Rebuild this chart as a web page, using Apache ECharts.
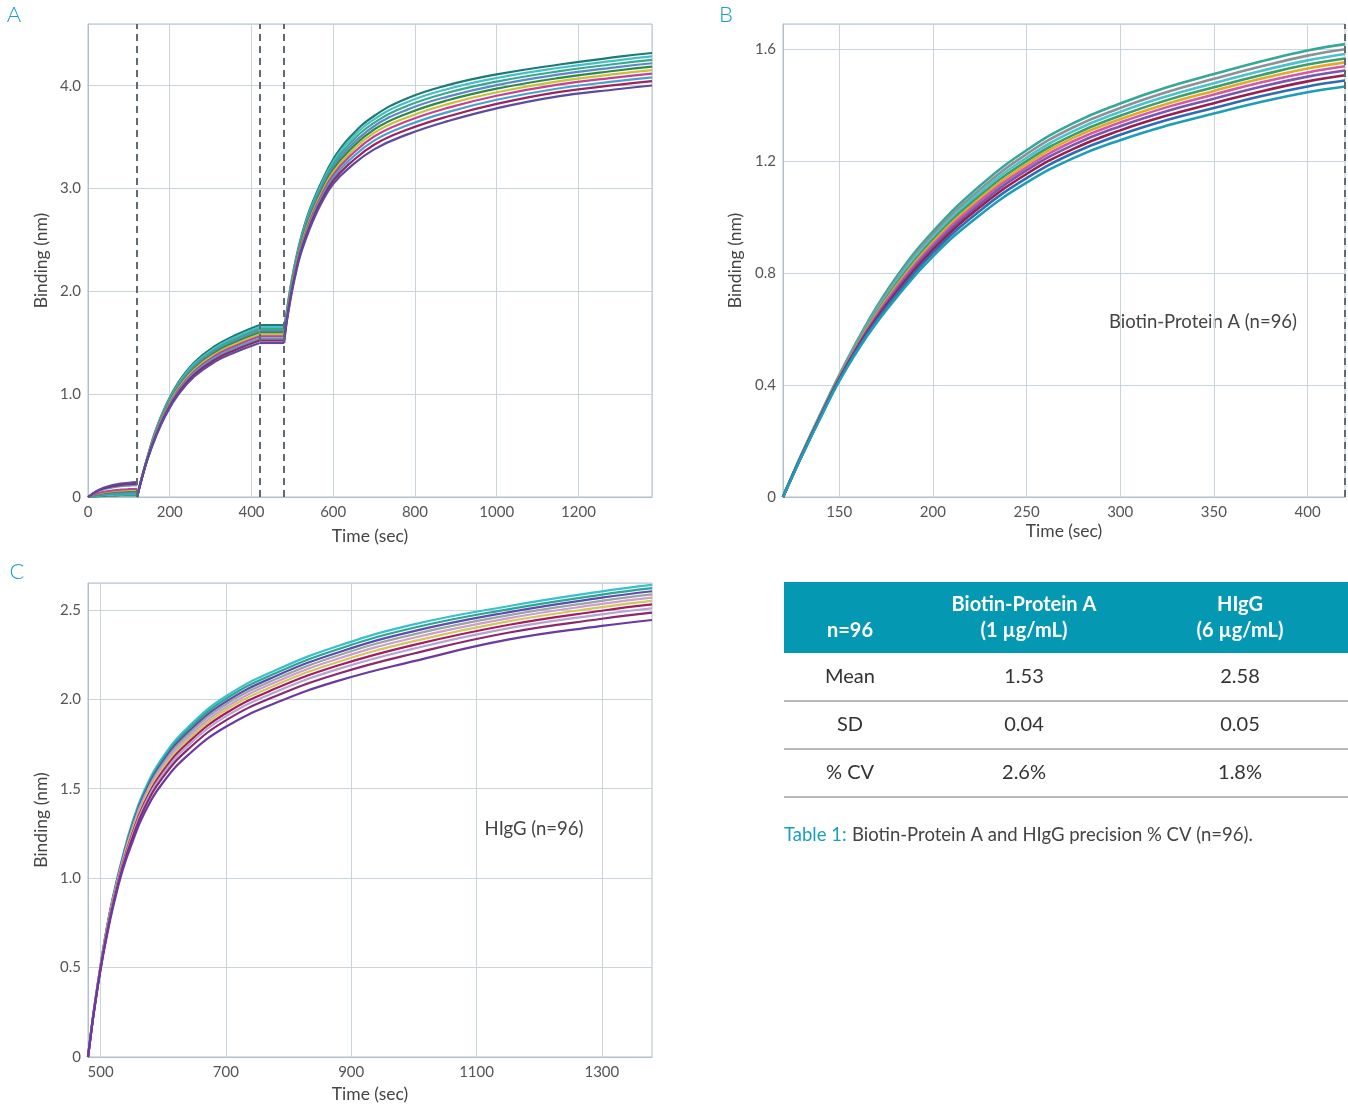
<!DOCTYPE html>
<html>
<head>
<meta charset="utf-8">
<title>Binding precision</title>
<script src="https://cdn.jsdelivr.net/npm/echarts@6/dist/echarts.min.js"></script>
<style>
  html, body { margin: 0; padding: 0; background: #fff; }
  #chart { width: 1348px; height: 1108px; }
</style>
</head>
<body>
<div id="chart"></div>
<script>
// ---- panel A : full run (baseline / Biotin-Protein A loading / baseline / HIgG association)
var tA1 = [0, 20, 40, 60, 80, 100, 120];
var tA2 = [120, 130, 145, 165, 190, 220, 260, 310, 360, 420];
var tAHold = [420, 480];
var tA3 = [480, 485, 490, 500, 510, 520, 535, 550, 570, 600, 640, 700, 780, 880, 1000, 1150, 1300, 1380];
var stepMarksA = [120, 420, 480];

var aBase = [
  [0, .006, .010, .012, .014, .014, .015],
  [0, .010, .016, .020, .023, .024, .025],
  [0, .014, .023, .028, .032, .034, .035],
  [0, .018, .029, .036, .041, .043, .045],
  [0, .024, .039, .048, .054, .058, .060],
  [0, .028, .046, .056, .063, .067, .070],
  [0, .032, .052, .064, .072, .077, .080],
  [0, .046, .075, .092, .104, .110, .115],
  [0, .052, .085, .104, .117, .125, .130],
  [0, .058, .094, .116, .131, .139, .145]
];
var aLoad = [
  [0, .164, .380, .644, .886, 1.108, 1.308, 1.466, 1.572, 1.672],
  [0, .163, .378, .636, .875, 1.094, 1.292, 1.448, 1.553, 1.652],
  [0, .162, .376, .628, .865, 1.082, 1.277, 1.432, 1.535, 1.633],
  [0, .161, .373, .621, .855, 1.069, 1.262, 1.415, 1.517, 1.614],
  [0, .161, .371, .615, .847, 1.058, 1.250, 1.401, 1.502, 1.598],
  [0, .160, .370, .609, .838, 1.048, 1.238, 1.387, 1.487, 1.582],
  [0, .159, .367, .601, .828, 1.035, 1.223, 1.371, 1.469, 1.563],
  [0, .158, .365, .594, .817, 1.022, 1.207, 1.352, 1.450, 1.542],
  [0, .157, .363, .586, .806, 1.008, 1.190, 1.334, 1.430, 1.522],
  [0, .156, .360, .576, .794, .992, 1.172, 1.314, 1.408, 1.498]
];
var aHold = [
  [1.672, 1.672], [1.652, 1.652], [1.633, 1.633], [1.614, 1.614], [1.598, 1.598],
  [1.582, 1.582], [1.563, 1.563], [1.542, 1.542], [1.522, 1.522], [1.498, 1.498]
];
var aAssoc = [
  [1.672, 1.772, 1.906, 2.143, 2.339, 2.504, 2.710, 2.870, 3.051, 3.285, 3.496, 3.705, 3.876, 4.005, 4.110, 4.204, 4.282, 4.318],
  [1.652, 1.761, 1.894, 2.130, 2.324, 2.488, 2.691, 2.850, 3.030, 3.260, 3.466, 3.672, 3.839, 3.968, 4.075, 4.172, 4.249, 4.285],
  [1.633, 1.750, 1.883, 2.117, 2.310, 2.473, 2.672, 2.830, 3.008, 3.235, 3.435, 3.639, 3.802, 3.931, 4.040, 4.139, 4.216, 4.252],
  [1.614, 1.739, 1.871, 2.103, 2.295, 2.457, 2.653, 2.810, 2.987, 3.209, 3.404, 3.606, 3.765, 3.894, 4.006, 4.107, 4.183, 4.218],
  [1.598, 1.728, 1.859, 2.090, 2.281, 2.442, 2.634, 2.790, 2.966, 3.184, 3.373, 3.574, 3.728, 3.858, 3.971, 4.074, 4.150, 4.185],
  [1.582, 1.717, 1.847, 2.077, 2.266, 2.426, 2.615, 2.770, 2.945, 3.159, 3.342, 3.541, 3.691, 3.821, 3.936, 4.042, 4.117, 4.152],
  [1.563, 1.706, 1.835, 2.063, 2.252, 2.411, 2.596, 2.750, 2.923, 3.133, 3.311, 3.506, 3.654, 3.784, 3.902, 4.010, 4.084, 4.118],
  [1.542, 1.694, 1.822, 2.048, 2.235, 2.393, 2.575, 2.728, 2.900, 3.105, 3.277, 3.466, 3.612, 3.743, 3.863, 3.973, 4.047, 4.081],
  [1.522, 1.681, 1.809, 2.033, 2.219, 2.376, 2.554, 2.705, 2.876, 3.076, 3.242, 3.426, 3.571, 3.701, 3.823, 3.937, 4.010, 4.044],
  [1.498, 1.668, 1.794, 2.017, 2.201, 2.356, 2.530, 2.680, 2.849, 3.045, 3.204, 3.381, 3.524, 3.655, 3.780, 3.896, 3.968, 4.002]
];
var colorsA = ['#1d7b74', '#45bfc4', '#38a88f', '#5b88c6', '#2f8a45', '#c8bf3e', '#c4438f', '#4aa0cc', '#9a2462', '#5c4a9e'];

// ---- panel B : Biotin-Protein A loading step
var tB = [120, 125, 130, 140, 150, 165, 180, 200, 225, 250, 275, 300, 325, 350, 375, 400, 420];
var gridXB = [150, 200, 250, 300, 350, 400];
var bCurves = [
  [0, .078, .154, .297, .435, .623, .781, .948, 1.111, 1.239, 1.336, 1.406, 1.464, 1.511, 1.556, 1.595, 1.618],
  [0, .077, .153, .295, .433, .617, .772, .938, 1.098, 1.225, 1.321, 1.390, 1.447, 1.494, 1.538, 1.577, 1.600],
  [0, .077, .152, .294, .430, .612, .764, .928, 1.087, 1.212, 1.307, 1.376, 1.432, 1.478, 1.522, 1.560, 1.583],
  [0, .077, .151, .292, .428, .607, .756, .919, 1.076, 1.200, 1.294, 1.362, 1.418, 1.464, 1.507, 1.545, 1.567],
  [0, .076, .150, .291, .426, .603, .749, .910, 1.066, 1.189, 1.283, 1.350, 1.405, 1.451, 1.494, 1.531, 1.553],
  [0, .076, .150, .290, .424, .599, .743, .902, 1.057, 1.178, 1.271, 1.338, 1.393, 1.438, 1.481, 1.517, 1.539],
  [0, .076, .149, .288, .422, .594, .735, .893, 1.046, 1.167, 1.258, 1.325, 1.379, 1.423, 1.466, 1.502, 1.524],
  [0, .075, .148, .287, .420, .589, .727, .883, 1.035, 1.154, 1.244, 1.310, 1.363, 1.407, 1.449, 1.485, 1.507],
  [0, .075, .147, .285, .417, .583, .718, .872, 1.022, 1.139, 1.229, 1.294, 1.347, 1.390, 1.432, 1.467, 1.488],
  [0, .074, .146, .283, .414, .576, .708, .860, 1.007, 1.123, 1.211, 1.275, 1.327, 1.370, 1.411, 1.446, 1.467]
];
var colorsB = ['#35a898', '#8d9196', '#4cc0cc', '#3c9f6a', '#e3a92b', '#cf5aa6', '#7a56ad', '#97204f', '#2f6db3', '#1f9db6'];

// ---- panel C : HIgG association step
var tC = [480, 485, 490, 500, 510, 520, 535, 550, 570, 600, 640, 700, 780, 880, 1000, 1150, 1300, 1380];
var gridXC = [500, 700, 900, 1100, 1300];
var cCurves = [
  [0, .143, .276, .511, .723, .899, 1.116, 1.303, 1.491, 1.679, 1.845, 2.017, 2.163, 2.299, 2.419, 2.520, 2.603, 2.639],
  [0, .143, .275, .509, .719, .893, 1.109, 1.293, 1.479, 1.666, 1.831, 2.002, 2.147, 2.281, 2.400, 2.503, 2.585, 2.621],
  [0, .142, .274, .507, .714, .888, 1.102, 1.283, 1.468, 1.653, 1.817, 1.986, 2.130, 2.263, 2.381, 2.486, 2.568, 2.604],
  [0, .141, .273, .505, .710, .883, 1.096, 1.273, 1.456, 1.640, 1.803, 1.971, 2.113, 2.246, 2.363, 2.469, 2.550, 2.586],
  [0, .141, .272, .503, .706, .877, 1.089, 1.263, 1.445, 1.627, 1.788, 1.955, 2.097, 2.228, 2.344, 2.452, 2.533, 2.568],
  [0, .140, .270, .501, .701, .872, 1.082, 1.253, 1.433, 1.614, 1.774, 1.940, 2.080, 2.210, 2.325, 2.435, 2.515, 2.550],
  [0, .139, .269, .498, .696, .865, 1.074, 1.241, 1.420, 1.599, 1.758, 1.922, 2.061, 2.190, 2.304, 2.415, 2.495, 2.530],
  [0, .139, .268, .496, .691, .859, 1.066, 1.230, 1.407, 1.584, 1.742, 1.904, 2.042, 2.170, 2.283, 2.396, 2.475, 2.509],
  [0, .138, .266, .493, .685, .851, 1.057, 1.216, 1.391, 1.566, 1.721, 1.882, 2.018, 2.144, 2.256, 2.372, 2.450, 2.484],
  [0, .137, .264, .488, .675, .839, 1.041, 1.193, 1.364, 1.536, 1.689, 1.846, 1.980, 2.104, 2.213, 2.333, 2.410, 2.443]
];
var colorsC = ['#3cbfc8', '#2aa596', '#5a4fa8', '#9ca3a8', '#c9a0c8', '#d4c463', '#a31d5b', '#b7a3cf', '#8a2a6e', '#6b3aa0'];

// ---- table
var tableHeadTop = ['', 'Biotin-Protein A', 'HIgG'];
var tableHeadBottom = ['n=96', '(1 µg/mL)', '(6 µg/mL)'];
var tableRows = ['Mean', 'SD', '% CV'];
var tableProteinA = ['1.53', '0.04', '2.6%'];
var tableHIgG = ['2.58', '0.05', '1.8%'];

var FONT = 'Lato, "Open Sans", sans-serif';
var gridColor = '#c9d4db';
var axisColor = '#b3c0c8';
var labelColor = '#555';
var teal = '#1aa0bf';

function near(v, step) {
  return Math.abs(v / step - Math.round(v / step)) < 1e-6;
}

var series = [];
function addCurves(idx, times, curves, colors, width) {
  curves.forEach(function (vals, i) {
    series.push({
      type: 'line',
      xAxisIndex: idx,
      yAxisIndex: idx,
      data: times.map(function (t, k) { return [t, vals[k]]; }),
      showSymbol: false,
      smooth: 0.45,
      silent: true,
      z: 2,
      lineStyle: { color: colors[i], width: width }
    });
  });
}
addCurves(0, tA1, aBase, colorsA, 2);
addCurves(0, tA2, aLoad, colorsA, 2.2);
addCurves(0, tAHold, aHold, colorsA, 2.2);
addCurves(0, tA3, aAssoc, colorsA, 2.2);
addCurves(1, tB, bCurves, colorsB, 2.6);
addCurves(2, tC, cCurves, colorsC, 2.2);

function markSeries(idx, values, style, z) {
  return {
    type: 'line', xAxisIndex: idx, yAxisIndex: idx, data: [], silent: true,
    markLine: {
      silent: true, z: z, symbol: ['none', 'none'], label: { show: false },
      lineStyle: style, animation: false,
      data: values.map(function (v) { return { xAxis: v }; })
    }
  };
}
series.push(markSeries(1, gridXB, { color: gridColor, type: 'solid', width: 1 }, 1));
series.push(markSeries(2, gridXC, { color: gridColor, type: 'solid', width: 1 }, 1));
series.push(markSeries(0, stepMarksA, { color: '#5f6a72', type: [7, 5], width: 2 }, 5));
series.push(markSeries(1, [420], { color: '#5f6a72', type: [7, 5], width: 2 }, 5));

var labelStyle = { color: labelColor, fontSize: 15, fontFamily: FONT };
var nameStyle = { color: '#444', fontSize: 17.5, fontFamily: FONT };

function xAxisOf(idx, min, max, interval, fmt, showSplit, nameGap) {
  return {
    type: 'value', gridIndex: idx, min: min, max: max, interval: interval,
    name: 'Time (sec)', nameLocation: 'middle', nameGap: nameGap, nameTextStyle: nameStyle,
    axisLine: { show: true, lineStyle: { color: axisColor } },
    axisTick: { show: false },
    axisLabel: Object.assign({ margin: 8, formatter: fmt }, labelStyle),
    splitLine: { show: showSplit, lineStyle: { color: gridColor, width: 1 } }
  };
}
function yAxisOf(idx, max, interval, nameGap) {
  return {
    type: 'value', gridIndex: idx, min: 0, max: max, interval: interval,
    name: 'Binding (nm)', nameLocation: 'middle', nameGap: nameGap, nameTextStyle: nameStyle,
    axisLine: { show: true, lineStyle: { color: axisColor } },
    axisTick: { show: false },
    axisLabel: Object.assign({
      margin: 7,
      formatter: function (v) {
        if (v === 0) return '0';
        return near(v, interval) ? v.toFixed(1) : '';
      }
    }, labelStyle),
    splitLine: { show: true, lineStyle: { color: gridColor, width: 1 } }
  };
}

function txt(x, y, text, size, fill, extra) {
  return { type: 'text', x: x, y: y, style: Object.assign({
    text: text, fill: fill, fontSize: size, fontFamily: FONT,
    textAlign: 'center', textVerticalAlign: 'middle'
  }, extra || {}) };
}

var graphics = [
  txt(14, 15, 'A', 22, teal, { fontWeight: 300 }),
  txt(726, 15, 'B', 22, teal, { fontWeight: 300 }),
  txt(17, 572, 'C', 22, teal, { fontWeight: 300 }),
  txt(1203, 322, 'Biotin-Protein A (n=96)', 18.5, '#444'),
  txt(534, 829, 'HIgG (n=96)', 18.5, '#444'),
  { type: 'rect', shape: { x: 784, y: 582, width: 564, height: 71 }, style: { fill: '#0598b2' } }
];
var colX = [850, 1024, 1240];
colX.forEach(function (cx, i) {
  if (tableHeadTop[i]) {
    graphics.push(txt(cx, 605, tableHeadTop[i], 20, '#fff', { fontWeight: 'bold' }));
  }
  graphics.push(txt(cx, 631, tableHeadBottom[i], 20, '#fff', { fontWeight: 'bold' }));
});
tableRows.forEach(function (row, r) {
  var cy = 677 + r * 48;
  [row, tableProteinA[r], tableHIgG[r]].forEach(function (t, i) {
    graphics.push(txt(colX[i], cy, t, 20, '#333'));
  });
  graphics.push({ type: 'line', shape: { x1: 784, y1: cy + 24, x2: 1348, y2: cy + 24 }, style: { stroke: '#707070', lineWidth: 1 } });
});
graphics.push(txt(784, 835, 'Table 1:', 18.5, teal, { textAlign: 'left' }));
graphics.push(txt(852, 835, 'Biotin-Protein A and HIgG precision % CV (n=96).', 18.5, '#444', { textAlign: 'left' }));

var chart = echarts.init(document.getElementById('chart'), null, { renderer: 'canvas' });
chart.setOption({
  animation: false,
  backgroundColor: '#fff',
  grid: [
    { left: 88, top: 24, width: 564, height: 473, show: true, borderColor: axisColor, borderWidth: 1, containLabel: false },
    { left: 783, top: 24, width: 563, height: 473, show: true, borderColor: axisColor, borderWidth: 1, containLabel: false },
    { left: 88, top: 583, width: 564, height: 474, show: true, borderColor: axisColor, borderWidth: 1, containLabel: false }
  ],
  xAxis: [
    xAxisOf(0, 0, 1380, 200, function (v) { return near(v, 200) ? String(v) : ''; }, true, 30),
    xAxisOf(1, 120, 420, 10, function (v) { return gridXB.indexOf(v) >= 0 ? String(v) : ''; }, false, 25),
    xAxisOf(2, 480, 1380, 20, function (v) { return gridXC.indexOf(v) >= 0 ? String(v) : ''; }, false, 28)
  ],
  yAxis: [
    yAxisOf(0, 4.6, 1, 38),
    yAxisOf(1, 1.69, 0.4, 39),
    yAxisOf(2, 2.65, 0.5, 38)
  ],
  graphic: graphics,
  series: series
});
</script>
</body>
</html>
